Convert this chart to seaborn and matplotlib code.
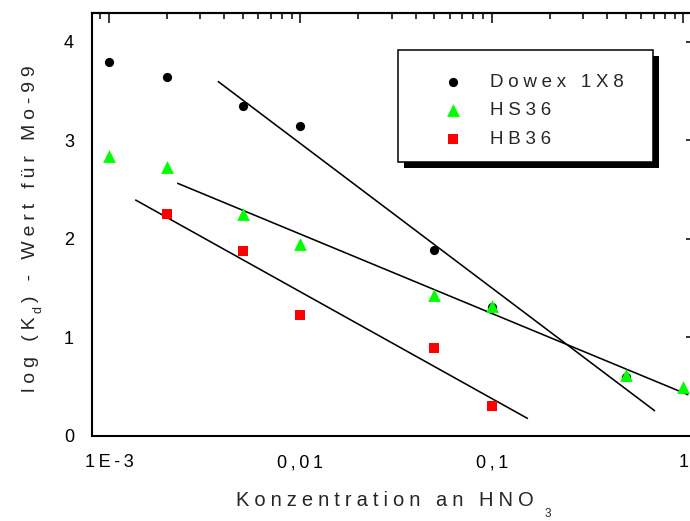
import numpy as np
import pandas as pd
import matplotlib
matplotlib.use("Agg")
import matplotlib.pyplot as plt
import seaborn as sns
from matplotlib.patches import Rectangle
from matplotlib.transforms import IdentityTransform
from matplotlib.ticker import FixedLocator, LogLocator, NullFormatter, MultipleLocator, FixedFormatter

# ---- data: log(Kd) of Mo-99 versus HNO3 concentration (mol/L) ----
series_names = ["Dowex 1X8", "HS36", "HB36"]
series_colors = ["#000000", "#00ff00", "#ff0000"]
series_markers = ["o", "^", "s"]

dowex_conc = [0.001, 0.002, 0.005, 0.01, 0.05, 0.1, 0.5]
dowex_logkd = [3.79, 3.64, 3.35, 3.14, 1.89, 1.31, 0.60]

hs36_conc = [0.001, 0.002, 0.005, 0.01, 0.05, 0.1, 0.5, 1.0]
hs36_logkd = [2.84, 2.73, 2.25, 1.95, 1.43, 1.32, 0.62, 0.50]

hb36_conc = [0.002, 0.005, 0.01, 0.05, 0.1]
hb36_logkd = [2.25, 1.88, 1.23, 0.89, 0.30]

# lowest concentration included in each regression, and drawn extent of each line
fit_from = [0.005, 0.001, 0.002]
line_span = [(0.0037, 0.71), (0.00227, 1.06), (0.00137, 0.154)]

x_ticks = [0.001, 0.01, 0.1, 1.0]
x_ticklabels = ["1E-3", "0,01", "0,1", "1"]
y_ticks = [0, 1, 2, 3, 4]
y_ticklabels = ["0", "1", "2", "3", "4"]

THIN = "\u2009"
WIDE = "\u2005"


def spaced(s, sp=THIN):
    return sp.join(s)


sns.set_style("white")
plt.rcParams["font.family"] = ["Liberation Sans", "DejaVu Sans"]

W, H = 690, 521
fig = plt.figure(figsize=(W / 100, H / 100), dpi=100)
ax = fig.add_axes([92 / W, 1 - 436 / H, (692 - 92) / W, (436 - 13) / H])
ax.set_xscale("log")

concs = [dowex_conc, hs36_conc, hb36_conc]
vals = [dowex_logkd, hs36_logkd, hb36_logkd]
sizes = [44, 85, 52]

frames = []
for name, c, v in zip(series_names, concs, vals):
    frames.append(pd.DataFrame({"conc": c, "logkd": v, "material": name}))
df = pd.concat(frames, ignore_index=True)

# regression lines (linear in log10 of concentration)
for name, start, (x0, x1) in zip(series_names, fit_from, line_span):
    sub = df[(df["material"] == name) & (df["conc"] >= start)]
    k, d = np.polyfit(np.log10(sub["conc"]), sub["logkd"], 1)
    xs = np.array([x0, x1])
    ax.plot(xs, k * np.log10(xs) + d, color="black", lw=1.15, zorder=2,
            solid_capstyle="butt")

for name, col, mk, s in zip(series_names, series_colors, series_markers, sizes):
    sns.scatterplot(data=df[df["material"] == name], x="conc", y="logkd",
                    color=col, marker=mk, s=s, linewidth=0, label=spaced(name, WIDE),
                    ax=ax, zorder=3)

ax.set_xlim(0.000815, 1.108)
ax.set_ylim(0, 4.29)
ax.set_xlabel("")
ax.set_ylabel("")

for side in ["left", "bottom", "top", "right"]:
    ax.spines[side].set_linewidth(1.5)
    ax.spines[side].set_color("black")

ax.xaxis.set_major_locator(FixedLocator(x_ticks))
ax.xaxis.set_major_formatter(FixedFormatter([spaced(t) for t in x_ticklabels]))
ax.xaxis.set_minor_locator(LogLocator(base=10, subs=np.arange(2, 10), numticks=20))
ax.xaxis.set_minor_formatter(NullFormatter())
ax.yaxis.set_major_locator(FixedLocator(y_ticks))
ax.yaxis.set_major_formatter(FixedFormatter(y_ticklabels))
ax.yaxis.set_minor_locator(MultipleLocator(0.5))
ax.tick_params(which="major", direction="out", length=7, width=1.3,
               labelsize=13, colors="black", pad=6)
ax.tick_params(which="minor", direction="out", length=4, width=1.3, colors="black")

# inward ticks along the top and right frame
top = ax.secondary_xaxis("top")
top.xaxis.set_major_locator(FixedLocator(x_ticks))
top.xaxis.set_minor_locator(LogLocator(base=10, subs=np.arange(2, 10), numticks=20))
top.xaxis.set_major_formatter(NullFormatter())
top.xaxis.set_minor_formatter(NullFormatter())
top.tick_params(which="major", direction="in", length=7, width=1.3)
top.tick_params(which="minor", direction="in", length=4, width=1.3)
top.spines["top"].set_linewidth(1.5)

right = ax.secondary_yaxis("right")
right.yaxis.set_major_locator(FixedLocator(y_ticks))
right.yaxis.set_minor_locator(FixedLocator([]))
right.yaxis.set_major_formatter(NullFormatter())
right.tick_params(which="major", direction="in", length=4, width=1.3)

# legend entries (frame is drawn separately below)
leg = ax.legend(loc="upper left", bbox_to_anchor=(398 / W, 1 - 55 / H),
                bbox_transform=fig.transFigure, borderaxespad=0,
                frameon=False, fontsize=13.5,
                borderpad=1.0, labelspacing=0.6, handletextpad=0.05,
                handlelength=3.85)
leg.set_zorder(7)

# legend box with a solid drop shadow
box_x, box_y, box_w, box_h = 398, H - 162, 255, 112
shadow = Rectangle((box_x + 6, box_y - 6), box_w, box_h,
                   transform=IdentityTransform(), facecolor="black",
                   edgecolor="none", zorder=5.5, clip_on=False)
frame = Rectangle((box_x, box_y), box_w, box_h,
                  transform=IdentityTransform(), facecolor="white",
                  edgecolor="black", linewidth=1.1, zorder=6, clip_on=False)
ax.add_artist(shadow)
ax.add_artist(frame)

fig.canvas.draw()
renderer = fig.canvas.get_renderer()

# x axis title with subscript
xl = fig.text(236 / W, 1 - 506 / H, spaced("Konzentration an HNO", WIDE),
              fontsize=14.5, ha="left", va="baseline")
ext = xl.get_window_extent(renderer)
fig.text((ext.x1 + 11) / W, 1 - 517 / H, "3", fontsize=8.5, ha="left", va="baseline")

# y axis title with subscript, reading upwards
y_base_x = 35
p1 = fig.text(y_base_x / W, 1 - 392 / H, spaced("log (K", WIDE), fontsize=14,
              rotation=90, rotation_mode="anchor", ha="left", va="baseline")
e1 = p1.get_window_extent(renderer)
p2 = fig.text((y_base_x + 7) / W, (e1.y1 + 3) / H, "d", fontsize=9,
              rotation=90, rotation_mode="anchor", ha="left", va="baseline")
e2 = p2.get_window_extent(renderer)
p3 = fig.text(y_base_x / W, (e2.y1 + 4) / H, spaced(") - Wert für Mo-99", WIDE),
              fontsize=14, rotation=90, rotation_mode="anchor", ha="left",
              va="baseline")

fig.savefig("out.png", dpi=100)
